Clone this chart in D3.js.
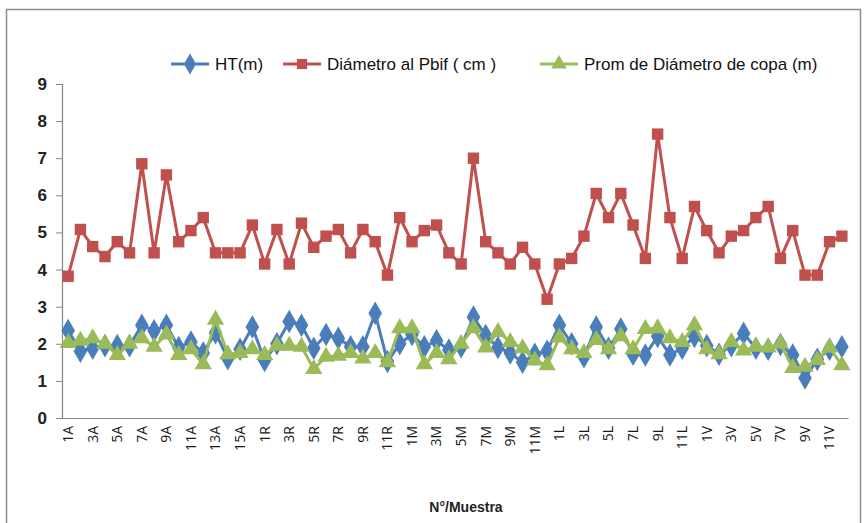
<!DOCTYPE html>
<html>
<head>
<meta charset="utf-8">
<script src="https://cdn.jsdelivr.net/npm/d3@7"></script>
<style>
    body { margin: 0; background: #fff; }
    svg { display: block; }
</style>
</head>
<body>
<div id="chart"></div>
<script>
(function (d3) {

    "use strict";

    //Sample groups and sizes (A has 16, the rest 12)
    var groups = ["A", "R", "M", "L", "V"];
    var groupSizes = [16, 12, 12, 12, 12];

    var categories = [];
    groups.forEach(function (g, gi) {
        for (var i = 1; i <= groupSizes[gi]; i++) categories.push(i + g);
    });

    var seriesNames = ["HT(m)", "Diámetro al Pbif ( cm )", "Prom de Diámetro de copa (m)"];

    var htValues = [
        2.36, 1.8, 1.88, 1.95, 1.95, 1.95, 2.5, 2.35, 2.5, 1.9, 2.05, 1.75, 2.3, 1.6, 1.85, 2.45,
        1.55, 2.0, 2.6, 2.5, 1.88, 2.25, 2.15, 1.92, 1.92, 2.82, 1.52, 2.0, 2.25, 1.92, 2.08, 1.83,
        1.92, 2.72, 2.22, 1.9, 1.75, 1.5, 1.72, 1.8, 2.5, 2.0, 1.65, 2.45, 1.88, 2.4, 1.72, 1.7,
        2.2, 1.7, 1.88, 2.2, 1.95, 1.72, 1.95, 2.28, 1.88, 1.85, 1.98, 1.7, 1.08, 1.58, 1.85, 1.92
    ];

    var diamValues = [
        3.82, 5.08, 4.62, 4.35, 4.75, 4.45, 6.85, 4.45, 6.55, 4.75, 5.05, 5.4, 4.45, 4.45, 4.45, 5.2,
        4.15, 5.08, 4.15, 5.25, 4.6, 4.9, 5.08, 4.45, 5.08, 4.75, 3.85, 5.4, 4.75, 5.05, 5.2, 4.45,
        4.15, 7.0, 4.75, 4.45, 4.15, 4.6, 4.15, 3.2, 4.15, 4.3, 4.9, 6.05, 5.4, 6.05, 5.2, 4.3,
        7.65, 5.4, 4.3, 5.7, 5.05, 4.45, 4.9, 5.05, 5.4, 5.7, 4.3, 5.05, 3.85, 3.85, 4.75, 4.9
    ];

    var copaValues = [
        2.02, 2.08, 2.15, 2.0, 1.7, 2.0, 2.15, 1.92, 2.25, 1.7, 1.85, 1.45, 2.65, 1.72, 1.75, 1.85,
        1.7, 1.95, 1.95, 1.92, 1.32, 1.65, 1.68, 1.75, 1.6, 1.75, 1.5, 2.42, 2.42, 1.45, 1.75, 1.58,
        2.0, 2.42, 1.9, 2.32, 2.05, 1.88, 1.55, 1.42, 2.17, 1.85, 1.75, 2.1, 1.85, 2.2, 1.85, 2.4,
        2.42, 2.15, 2.05, 2.5, 1.85, 1.72, 2.05, 1.82, 1.92, 1.9, 2.0, 1.35, 1.38, 1.56, 1.9, 1.42
    ];

    var yTicks = [0, 1, 2, 3, 4, 5, 6, 7, 8, 9];

    var colours = ["#4a7ebb", "#c0504d", "#9bbb59"];

    var width = 865, height = 523;
    var plot = { left: 62, right: 848, top: 84, bottom: 418 };

    var svg = d3.select("#chart").append("svg")
        .attr("width", width)
        .attr("height", height);

    //Outer chart border
    svg.append("rect")
        .attr("x", 6.5).attr("y", 9.5)
        .attr("width", 854).attr("height", 530)
        .attr("fill", "#fff")
        .attr("stroke", "#8c8c8c")
        .attr("stroke-width", 1.5);

    var x = d3.scaleBand()
        .domain(categories)
        .range([plot.left, plot.right]);

    var y = d3.scaleLinear()
        .domain([0, 9])
        .range([plot.bottom, plot.top]);

    //Y axis
    var yAxis = svg.append("g")
        .attr("transform", "translate(" + plot.left + ",0)")
        .call(d3.axisLeft(y).tickValues(yTicks).tickSize(6).tickPadding(9));
    yAxis.select(".domain").attr("stroke", "#868686").attr("stroke-width", 1.2);
    yAxis.selectAll(".tick line").attr("stroke", "#868686");
    yAxis.selectAll("text")
        .style("font-family", "'Liberation Sans Narrow', 'Liberation Sans', sans-serif")
        .style("font-size", "17px")
        .style("font-weight", "bold")
        .attr("fill", "#222");

    //X axis, every second label shown
    var xAxis = svg.append("g")
        .attr("transform", "translate(0," + plot.bottom + ")")
        .call(d3.axisBottom(x)
            .tickValues(categories.filter(function (d, i) { return i % 2 === 0; }))
            .tickSize(0));
    xAxis.select(".domain").attr("stroke", "#868686").attr("stroke-width", 1.2);
    xAxis.selectAll("text")
        .attr("transform", "rotate(-90)")
        .attr("x", -8)
        .attr("y", 0)
        .attr("dy", "0.35em")
        .style("text-anchor", "end")
        .style("font-family", "'Open Sans', sans-serif")
        .style("font-size", "14px")
        .attr("fill", "#1a1a1a");

    svg.append("text")
        .attr("x", 466).attr("y", 512)
        .attr("text-anchor", "middle")
        .style("font-family", "'Liberation Sans', sans-serif")
        .style("font-size", "14px")
        .style("font-weight", "bold")
        .attr("fill", "#222")
        .text("N°/Muestra");

    var cx = function (d, i) { return x(categories[i]) + x.bandwidth() / 2; };

    var line = d3.line()
        .x(function (d, i) { return x(categories[i]) + x.bandwidth() / 2; })
        .y(function (d) { return y(d); });

    var symbols = [d3.symbolDiamond, d3.symbolSquare, d3.symbolTriangle];
    var symbolSizes = [160, 130, 130];
    var seriesData = [htValues, diamValues, copaValues];

    //Draw in order red, blue, green so green sits on top as in original
    [1, 0, 2].forEach(function (s) {
        var g = svg.append("g").attr("class", "series" + s);
        g.append("path")
            .datum(seriesData[s])
            .attr("d", line)
            .attr("fill", "none")
            .attr("stroke", colours[s])
            .attr("stroke-width", 3)
            .attr("stroke-linejoin", "round");
        g.selectAll("path.mark")
            .data(seriesData[s])
            .enter().append("path")
            .attr("class", "mark")
            .attr("transform", function (d, i) {
                return "translate(" + cx(d, i) + "," + y(d) + ")";
            })
            .attr("d", d3.symbol().type(symbols[s]).size(symbolSizes[s]))
            .attr("fill", colours[s]);
    });

    //Legend
    var legendX = [171, 283, 540];
    var legend = svg.append("g");
    seriesNames.forEach(function (name, s) {
        var lg = legend.append("g").attr("transform", "translate(" + legendX[s] + ",64)");
        lg.append("line")
            .attr("x1", 0).attr("x2", 38)
            .attr("stroke", colours[s]).attr("stroke-width", 3);
        lg.append("path")
            .attr("transform", "translate(19,0)")
            .attr("d", d3.symbol().type(symbols[s]).size(symbolSizes[s] * 0.8))
            .attr("fill", colours[s]);
        lg.append("text")
            .attr("x", 44).attr("dy", "0.35em")
            .style("font-family", "'Liberation Sans Narrow', 'Liberation Sans', sans-serif")
            .style("font-size", "17px")
            .attr("fill", "#111")
            .text(name);
    });

})(d3);
</script>
</body>
</html>
